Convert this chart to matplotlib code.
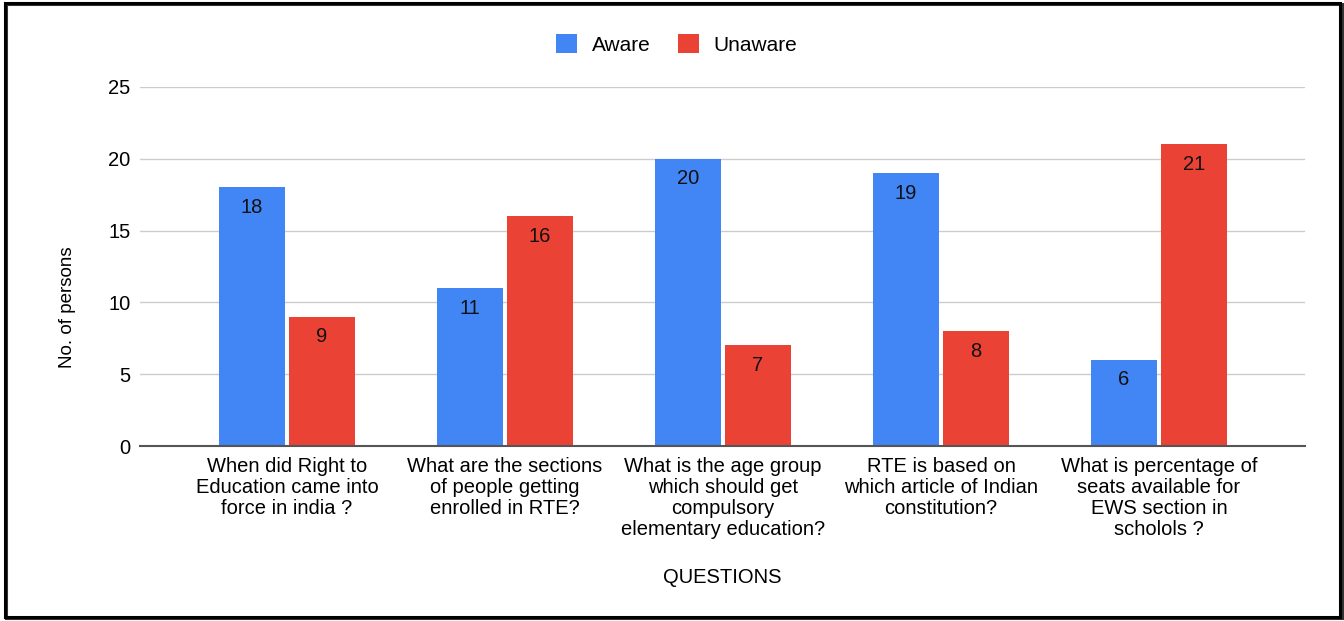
import matplotlib.pyplot as plt
from matplotlib.patches import Rectangle
import numpy as np

plt.rcParams['font.family'] = ['Liberation Sans', 'DejaVu Sans']

questions = [
    "When did Right to\nEducation came into\nforce in india ?",
    "What are the sections\nof people getting\nenrolled in RTE?",
    "What is the age group\nwhich should get\ncompulsory\nelementary education?",
    "RTE is based on\nwhich article of Indian\nconstitution?",
    "What is percentage of\nseats available for\nEWS section in\nscholols ?",
]
aware = [18, 11, 20, 19, 6]
unaware = [9, 16, 7, 8, 21]

blue = "#4285F4"
red = "#EA4335"

fig = plt.figure(figsize=(13.44, 6.21), dpi=100)
ax = fig.add_axes([0.1042, 0.2818, 0.8668, 0.5782])

x = np.arange(len(questions))
width = 0.303
b1 = ax.bar(x - 0.16, aware, width, color=blue, label="Aware", zorder=3)
b2 = ax.bar(x + 0.16, unaware, width, color=red, label="Unaware", zorder=3)

for rects, vals in ((b1, aware), (b2, unaware)):
    for r, v in zip(rects, vals):
        ax.text(r.get_x() + r.get_width() / 2, v - 1.4, str(v),
                ha="center", va="center", fontsize=14.5, color="#111111", zorder=4)

ax.set_xlim(-0.674, 4.67)
ax.set_ylim(0, 25)
ax.set_yticks([0, 5, 10, 15, 20, 25])
ax.yaxis.grid(True, color="#cccccc", linewidth=1, zorder=0)
ax.set_xticks(x)
ax.set_xticklabels(questions, fontsize=14.5, linespacing=1.13, va="top")
ax.tick_params(axis="y", labelsize=14.5, length=0, pad=7)
ax.tick_params(axis="x", length=0, pad=8)
for s in ("top", "right", "left"):
    ax.spines[s].set_visible(False)
ax.spines["bottom"].set_color("#555555")
ax.spines["bottom"].set_linewidth(1.5)
ax.spines["bottom"].set_zorder(5)

ax.set_ylabel("No. of persons", fontsize=13.5, va="center")
ax.yaxis.set_label_coords(-0.062, 0.387)
ax.set_xlabel("QUESTIONS", fontsize=14.5, va="center")
ax.xaxis.set_label_coords(0.5, -0.365)

fig.legend(loc="center", bbox_to_anchor=(0.5035, 0.928), ncol=2, frameon=False,
           fontsize=15, handlelength=1.0, handleheight=1.0, columnspacing=1.3,
           handletextpad=0.72)

# outer frame with a slight shadow on right/bottom
fig.patches.append(Rectangle((0.0048, 0.0048), 0.9937, 0.9895, transform=fig.transFigure,
                             fill=False, edgecolor="#333333", linewidth=2.2, zorder=0))
fig.patches.append(Rectangle((0.0034, 0.0064), 0.9937, 0.9895, transform=fig.transFigure,
                             fill=False, edgecolor="black", linewidth=2.2, zorder=1))

fig.savefig("out.png", dpi=100)
